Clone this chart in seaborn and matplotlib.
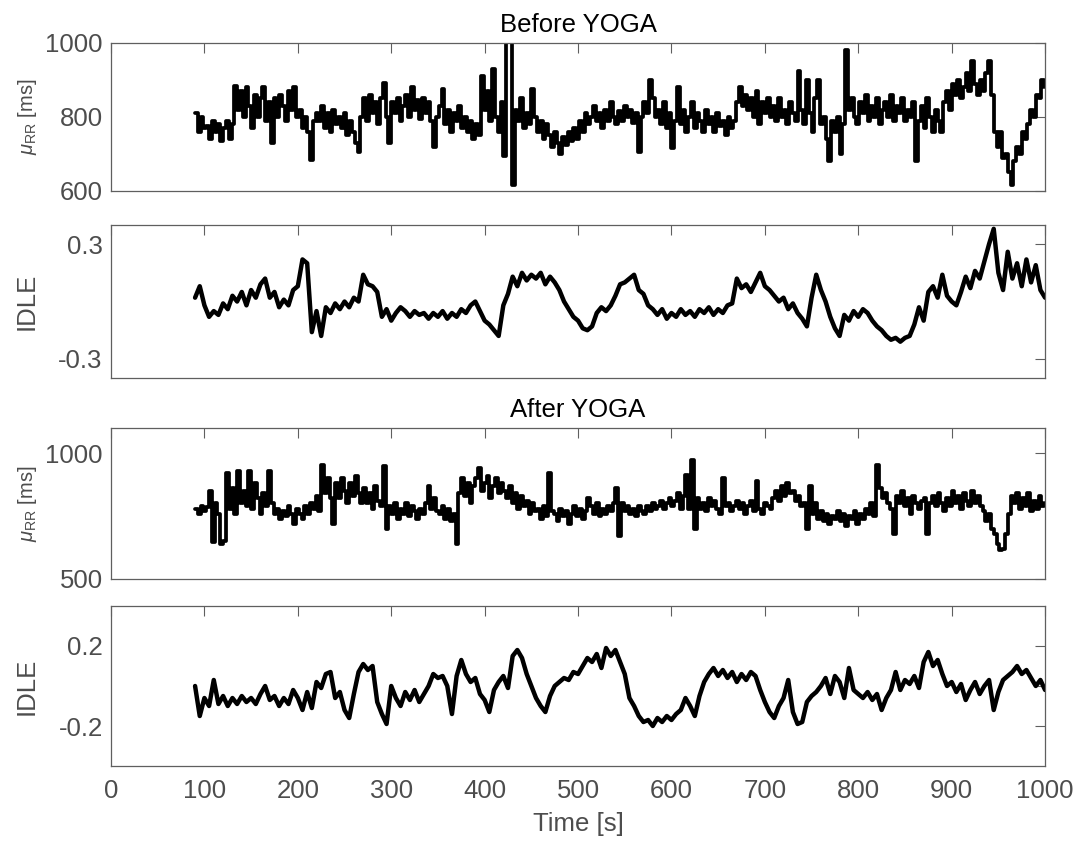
import numpy as np
import pandas as pd
import matplotlib
matplotlib.use("Agg")
import matplotlib.pyplot as plt
import seaborn as sns

# ---------------- data ----------------
rr_before_start, rr_step = 90, 3
rr_before = [
    810, 760, 800, 770,
    775, 740, 790, 760, 780, 735, 770, 790, 740, 780,
    885, 820, 870, 800, 880, 830, 770,
    860, 800, 850, 880, 790, 840, 730,
    850, 800, 860, 830, 790, 870, 820, 880, 800,
    820, 770, 800, 760, 685, 790, 810,
    790, 830, 770, 810, 760, 820, 780, 800,
    770, 810, 750, 790, 760, 730, 705,
    800, 850, 790, 860, 810, 840, 780, 850, 893,
    800, 730,
    840, 810, 850, 790, 830, 860, 800, 880, 820, 845, 795, 850, 810, 840, 790,
    720, 800,
    830, 875, 780, 820, 760, 810, 790, 830, 770, 800,
    760, 790, 740, 780, 750,
    910, 820, 870, 790, 930, 800, 760, 840, 695,
    1040, 1010, 615,
    820, 790, 850, 770, 810, 780, 875,
    800, 760, 790, 740, 780,
    750, 720, 760, 730, 700, 745, 725, 760, 735, 770, 740,
    790, 760, 810, 780,
    800, 830, 790, 810, 770, 820, 790, 840, 800, 780, 815, 790, 830, 800, 820, 785, 810,
    705,
    800, 840, 810, 900, 850, 800,
    820, 780, 840, 770, 810, 715,
    790, 880,
    780, 820, 760, 800, 840, 770, 810, 790, 760, 820, 780, 800, 760, 810, 775, 790, 750, 800, 770, 790,
    840, 880, 830, 860, 820,
    850, 800, 870, 780, 840, 810, 850, 800,
    830, 790, 850, 800, 820, 780, 840, 810, 790, 925,
    820, 780, 900, 810, 760, 850, 900, 780,
    800, 740, 680, 790, 760, 800, 700, 780, 980,
    820, 850, 800, 780, 840, 810, 860, 790, 830, 800, 850, 780, 820, 840, 800, 860, 790, 830, 810, 850, 790, 820, 800, 840,
    680,
    790, 830, 770, 850, 800, 760, 820, 790, 760,
    840, 870, 820, 890, 860, 900, 850, 880, 920, 870, 950, 890, 860, 900, 870, 920, 950,
    860, 760, 720, 760, 690,
    700, 650, 615, 680, 720, 700, 760,
    740, 780, 820, 800, 860, 850, 900, 880,
]

idle_start, idle_step = 90, 5
idle_before = [
    0.02, 0.08, -0.02, -0.08, -0.05, -0.07, -0.01, -0.04, 0.03, 0.0,
    0.05, -0.02, 0.06, 0.02, 0.09, 0.12, 0.02, 0.05, -0.03, 0.01,
    -0.02, 0.06, 0.08, 0.22, 0.20, -0.16, -0.05, -0.18, -0.03, -0.06,
    -0.01, -0.04, 0.0, -0.03, 0.02, 0.0, 0.14, 0.09, 0.08, 0.05,
    -0.08, -0.04, -0.10, -0.06, -0.03, -0.05, -0.08, -0.05, -0.07, -0.06,
    -0.09, -0.06, -0.08, -0.05, -0.09, -0.06, -0.08, -0.04, -0.06, -0.02,
    0.0, -0.05, -0.10, -0.12, -0.15, -0.18, -0.02, 0.04, 0.13, 0.08,
    0.15, 0.11, 0.14, 0.12, 0.15, 0.09, 0.13, 0.10, 0.06, 0.0,
    -0.04, -0.08, -0.10, -0.14, -0.15, -0.13, -0.06, -0.03, -0.05, -0.02,
    0.03, 0.09, 0.10, 0.12, 0.14, 0.06, 0.04, -0.02, -0.04, -0.07,
    -0.04, -0.09, -0.06, -0.08, -0.04, -0.07, -0.05, -0.08, -0.04, -0.06,
    -0.03, -0.07, -0.04, -0.06, -0.02, -0.01, 0.12, 0.07, 0.09, 0.05,
    0.10, 0.15, 0.08, 0.06, 0.03, 0.0, 0.02, -0.04, -0.01, -0.06,
    -0.09, -0.13, 0.02, 0.14, 0.06, 0.0, -0.08, -0.14, -0.18, -0.07,
    -0.10, -0.05, -0.08, -0.04, -0.06, -0.10, -0.13, -0.15, -0.18, -0.20,
    -0.19, -0.21, -0.19, -0.18, -0.12, -0.03, -0.10, 0.05, 0.08, 0.02,
    0.14, 0.03, 0.0, -0.02, 0.05, 0.13, 0.07, 0.16, 0.12, 0.21,
    0.30, 0.38, 0.15, 0.06, 0.26, 0.12, 0.20, 0.08, 0.22, 0.10,
    0.19, 0.06, 0.02,
]

rr_after = [
    780, 760, 790, 770, 785, 850, 645, 800, 760, 640,
    650, 920, 780, 860, 760, 930, 800, 850, 790, 930,
    780, 880, 820, 760, 840, 790, 930, 800, 760, 780,
    740, 770, 750, 790, 760, 720, 780, 760, 740, 790,
    760, 800, 780, 830, 770, 952, 840, 900, 820, 720,
    880, 820, 900, 850, 800, 880, 830, 910, 840, 800,
    860, 800, 840, 780, 870, 810, 790, 950, 700, 790,
    760, 800, 740, 780, 760, 800, 750, 790, 770, 740,
    780, 760, 800, 870, 780, 820, 770, 760, 790, 740,
    780, 730, 760, 640, 840, 900, 830, 880, 800, 870,
    900, 940, 850, 880, 910, 820, 870, 900, 840, 880,
    850, 820, 870, 800, 840, 780, 830, 790, 810, 760,
    800, 770, 780, 740, 790, 750, 920, 770, 760, 730,
    780, 750, 770, 720, 760, 790, 750, 780, 740, 770,
    820, 790, 760, 800, 750, 780, 760, 790, 770, 800,
    860, 670, 800, 770, 790, 760, 780, 750, 790, 770,
    760, 790, 770, 800, 780, 790, 810, 780, 800, 820,
    790, 810, 840, 780, 830, 912, 780, 972, 700, 820,
    780, 800, 770, 820, 790, 810, 780, 760, 900, 790,
    800, 770, 790, 810, 780, 800, 760, 790, 810, 770,
    890, 780, 760, 800, 790, 780, 820, 850, 810, 870,
    830, 880, 840, 850, 810, 830, 790, 800, 700, 870,
    760, 800, 740, 770, 730, 760, 720, 750, 740, 770,
    730, 760, 710, 750, 740, 770, 720, 760, 740, 780,
    760, 800, 750, 952, 860, 820, 840, 800, 780, 680,
    830, 800, 850, 790, 820, 760, 830, 800, 780, 810,
    820, 680, 800, 830, 790, 840, 800, 770, 820, 790,
    850, 800, 830, 780, 840, 810, 790, 850, 800, 830,
    790, 770, 730, 760, 700, 680, 640, 615, 620, 680,
    760, 830, 800, 840, 780, 820, 790, 840, 770, 810,
    780, 830, 790, 800,
]

idle_after = [
    0.0, -0.15, -0.06, -0.10, 0.03, -0.09, -0.05, -0.10, -0.06, -0.09,
    -0.05, -0.08, -0.06, -0.09, -0.04, 0.0, -0.07, -0.05, -0.10, -0.06,
    -0.09, -0.02, -0.06, -0.12, -0.03, -0.11, 0.02, -0.01, 0.06, 0.07,
    -0.06, -0.03, -0.12, -0.16, -0.04, 0.07, 0.11, 0.08, 0.10, -0.08,
    -0.14, -0.19, 0.0, -0.06, -0.10, -0.03, -0.07, -0.02, -0.08, -0.04,
    0.0, 0.06, 0.04, 0.05, 0.0, -0.14, 0.05, 0.13, 0.06, 0.02,
    0.04, -0.04, -0.07, -0.13, -0.02, 0.02, 0.05, -0.01, 0.15, 0.18,
    0.14, 0.06, 0.0, -0.06, -0.10, -0.13, -0.05, 0.0, 0.02, 0.04,
    0.03, 0.07, 0.06, 0.10, 0.14, 0.12, 0.16, 0.09, 0.19, 0.15,
    0.18, 0.12, 0.06, -0.06, -0.10, -0.15, -0.18, -0.17, -0.20, -0.16,
    -0.18, -0.15, -0.17, -0.14, -0.12, -0.06, -0.10, -0.15, -0.05, 0.02,
    0.06, 0.09, 0.05, 0.08, 0.04, 0.07, 0.02, 0.06, 0.03, 0.07,
    0.05, -0.02, -0.08, -0.13, -0.16, -0.10, -0.06, 0.03, -0.13, -0.19,
    -0.18, -0.08, -0.05, -0.03, 0.0, 0.04, -0.04, 0.05, 0.02, -0.06,
    0.09, -0.02, -0.04, -0.06, -0.03, -0.07, -0.04, -0.12, -0.06, -0.02,
    0.07, -0.02, 0.03, 0.01, 0.05, -0.01, 0.12, 0.17, 0.10, 0.13,
    0.06, 0.0, 0.02, -0.03, 0.01, -0.07, -0.02, 0.02, -0.04, 0.0,
    0.03, -0.12, -0.03, 0.03, 0.05, 0.07, 0.10, 0.06, 0.08, 0.04,
    0.0, 0.03, -0.02,
]

titles = ["Before YOGA", "After YOGA"]
x_ticks = list(range(0, 1001, 100))

# ---------------- style ----------------
sns.set_theme(style="white")
plt.rcParams["font.family"] = ["Liberation Sans", "DejaVu Sans"]
plt.rcParams["mathtext.fontset"] = "custom"
plt.rcParams["mathtext.rm"] = "Liberation Sans"
plt.rcParams["mathtext.it"] = "Liberation Sans:italic"

TXT = "#4d4d4d"
SPINE = "#5f5f5f"

fig = plt.figure(figsize=(10.83, 8.44), dpi=100)
L, W = 0.1025, 0.8625
rects = [
    (L, 0.7737, W, 0.1754),
    (L, 0.5521, W, 0.1813),
    (L, 0.3140, W, 0.1789),
    (L, 0.0924, W, 0.1896),
]
axes = [fig.add_axes(r) for r in rects]


def series(vals, start, step):
    t = start + step * np.arange(len(vals))
    return pd.DataFrame({"t": t, "v": vals})


dfs = [
    series(rr_before, rr_before_start, rr_step),
    series(idle_before, idle_start, idle_step),
    series(rr_after, rr_before_start, rr_step),
    series(idle_after, idle_start, idle_step),
]
lws = [2.7, 3.2, 2.7, 3.2]
styles = ["steps-post", "default", "steps-post", "default"]

for ax, df, lw, ds in zip(axes, dfs, lws, styles):
    sns.lineplot(data=df, x="t", y="v", ax=ax, color="black", linewidth=lw,
                 estimator=None, drawstyle=ds)

ylims = [(600, 1000), (-0.4, 0.4), (500, 1100), (-0.4, 0.4)]
yticks = [[600, 800, 1000], [-0.3, 0.3], [500, 1000], [-0.2, 0.0, 0.2]]
yticklabels = [["600", "800", "1000"], ["-0.3", "0.3"], ["500", "1000"], ["-0.2", "", "0.2"]]
ylabels = [r"$\mu_{\mathrm{RR}}$ [ms]", "IDLE", r"$\mu_{\mathrm{RR}}$ [ms]", "IDLE"]
ylabel_sizes = [14.5, 18.5, 14.5, 18.5]

for i, ax in enumerate(axes):
    ax.set_xlim(0, 1000)
    ax.set_ylim(*ylims[i])
    ax.set_xticks(x_ticks)
    ax.set_yticks(yticks[i])
    ax.set_yticklabels(yticklabels[i])
    ax.tick_params(direction="in", length=7, width=0.8, colors=SPINE,
                   labelcolor=TXT, labelsize=18.5, top=True, right=True)
    ax.tick_params(axis="y", pad=6)
    ax.tick_params(axis="x", pad=9)
    if i < 3:
        ax.tick_params(labelbottom=False)
        ax.set_xlabel("")
    else:
        ax.set_xticklabels([str(v) for v in x_ticks])
        ax.set_xlabel("Time [s]", fontsize=18.5, color=TXT, labelpad=7)
    ax.set_ylabel(ylabels[i], fontsize=ylabel_sizes[i], color=TXT)
    ax.yaxis.set_label_coords(-0.077, 0.5)
    for s in ax.spines.values():
        s.set_color(SPINE)
        s.set_linewidth(0.9)
        s.set_visible(True)

axes[0].set_title(titles[0], fontsize=18.5, color="black", pad=8)
axes[2].set_title(titles[1], fontsize=18.5, color="black", pad=8)

fig.savefig("out.png", dpi=100)
